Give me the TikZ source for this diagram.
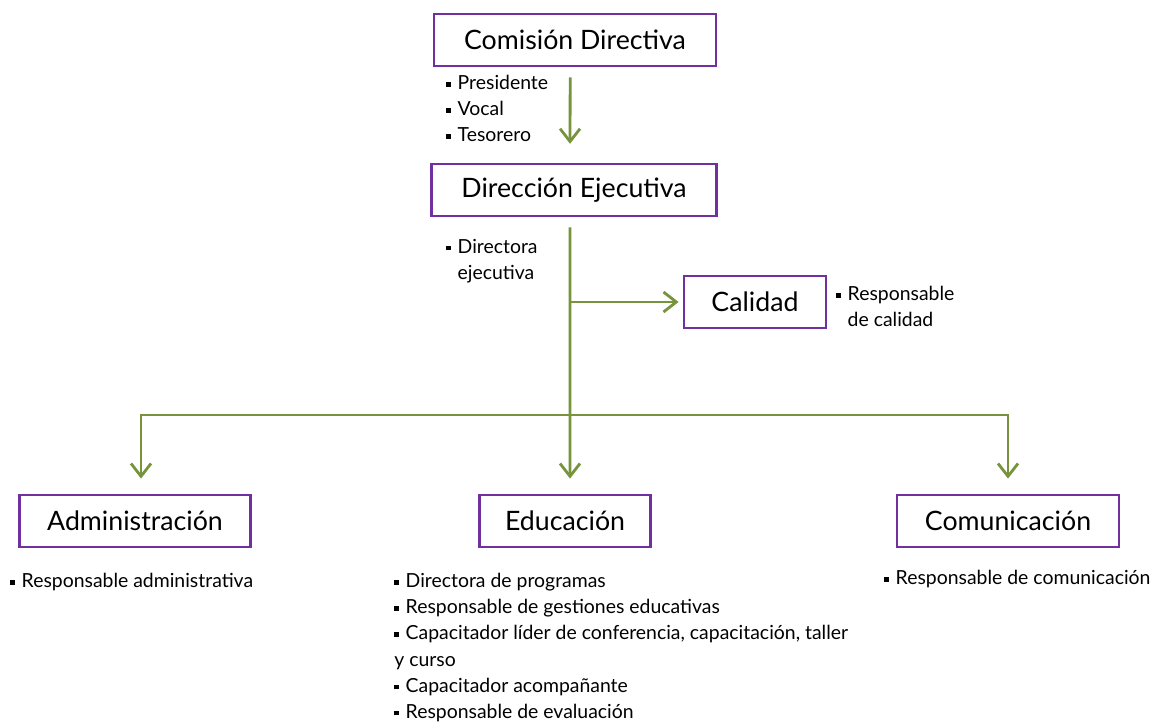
\documentclass[tikz,border=0pt]{standalone}
\usepackage{fontspec}
\setmainfont{Lato}
\usetikzlibrary{arrows.meta}
\definecolor{morado}{HTML}{7030A0}
\definecolor{verde}{HTML}{77933C}
\newcommand{\bul}{\rule[.3ex]{.24em}{.24em}\hspace{.35em}}
\newcommand{\sangria}{\hphantom{\bul}}
\begin{document}
\begin{tikzpicture}[x=0.025cm,y=-0.025cm,>={Straight Barb[length=3.2mm,width=5mm]},
   caja/.style={draw=morado,line width=2pt,minimum height=1.3cm,inner sep=0pt,font=\fontsize{19}{21}\selectfont},
   lista/.style={anchor=north west,inner sep=0pt,align=left,font=\fontsize{13.8}{18.6}\selectfont},
   flecha/.style={->,draw=verde,line width=2pt}]
   \useasboundingbox (0,0) rectangle (1155,722);
   % cajas
   \node[caja,minimum width=7.05cm] (cd) at (575,40) {Comisión Directiva};
   \node[caja,minimum width=7.125cm] (de) at (574,190) {Dirección Ejecutiva};
   \node[caja,minimum width=3.55cm] (cal) at (755,302) {Calidad};
   \node[caja,minimum width=5.775cm] (adm) at (135,521) {Administración};
   \node[caja,minimum width=4.275cm] (edu) at (565,521) {Educación};
   \node[caja,minimum width=5.55cm] (com) at (1008,521) {Comunicación};
   % listas
   \node[lista] (cdl) at (446,75) {\bul Presidente\\\bul Vocal\\\bul Tesorero};
   \node[lista] (del) at (446,239) {\bul Directora\\\sangria ejecutiva};
   \node[lista] (call) at (836,286) {\bul Responsable\\\sangria de calidad};
   \node[lista] (adml) at (10,573) {\bul Responsable administrativa};
   \node[lista] (edul) at (394,573) {\bul Directora de programas\\\bul Responsable de gestiones educativas\\\bul Capacitador líder de conferencia, capacitación, taller\\y curso\\\bul Capacitador acompañante\\\bul Responsable de evaluación};
   \node[lista] (coml) at (884,570) {\bul Responsable de comunicación};
   % conectores
   \coordinate (fork) at (570,415);
   \draw[flecha] ([xshift=-1.2mm,yshift=-2.5mm]cd.south) -- ([xshift=-1mm,yshift=4.7mm]de.north);
   \draw[flecha] ([xshift=-1mm,yshift=-2.5mm]de.south) -- ([xshift=1.25mm,yshift=3.75mm]edu.north);
   \draw[flecha] (cal.west -| fork) -- ([xshift=-1mm]cal.west);
   \draw[flecha] (fork) -| ([xshift=1.5mm,yshift=3.75mm]adm.north);
   \draw[flecha] (fork) -| ([yshift=3.75mm]com.north);
\end{tikzpicture}
\end{document}
